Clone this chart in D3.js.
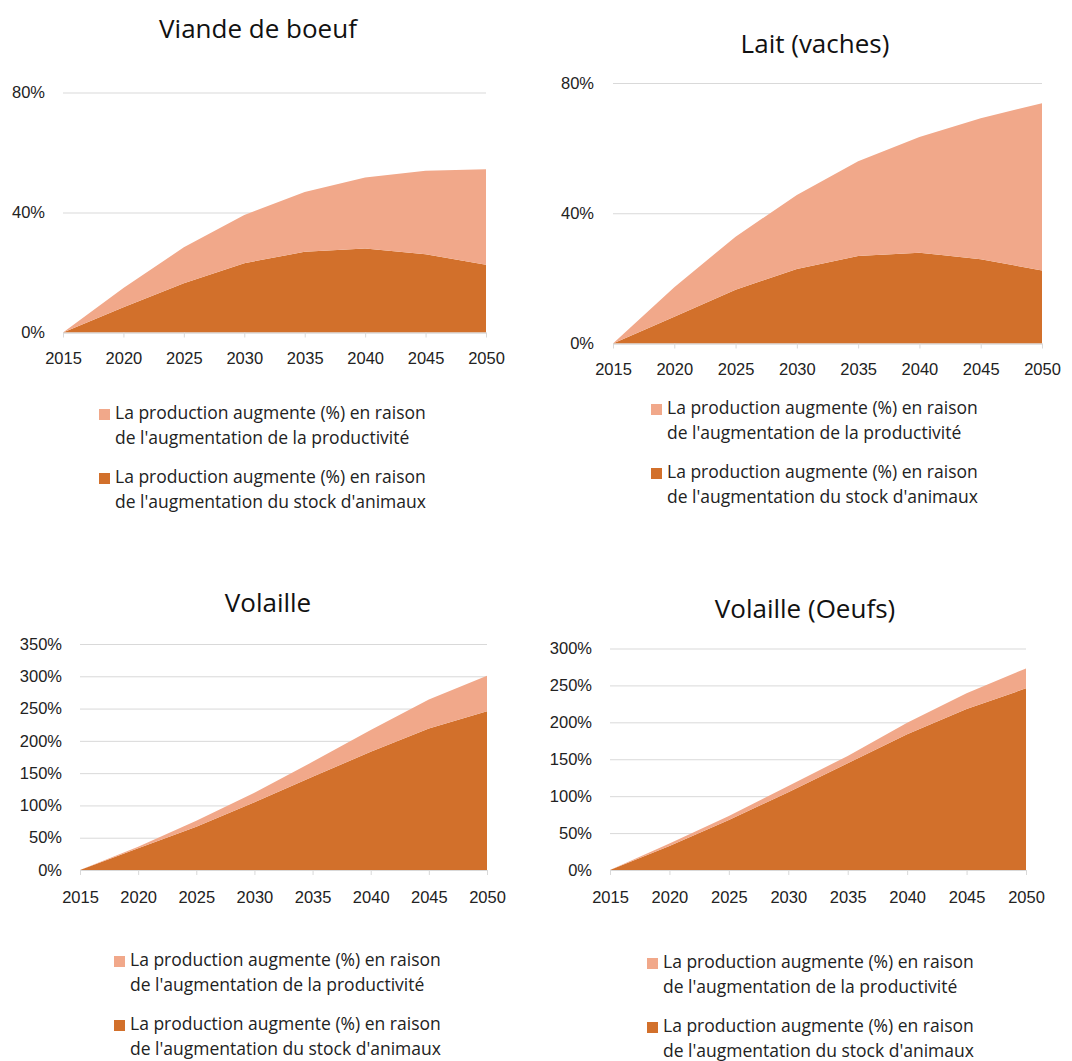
<!DOCTYPE html>
<html><head>
<meta charset="utf-8">
<script src="https://d3js.org/d3.v7.min.js"></script>
<style>
  body { margin: 0; background: #fff; }
  svg { font-family: "Open Sans", "Noto Sans", sans-serif; }
  .grid line { stroke: #d9d9d9; }
  .grid .domain { stroke: none; }
  .xaxis .domain, .xaxis line { stroke: #d9d9d9; }
  .tick text { fill: #222; }
</style>
</head>
<body>
<svg id="chart" width="1072" height="1061"></svg>
<script>
// data
let years = [2015, 2020, 2025, 2030, 2035, 2040, 2045, 2050];

let beefStock = [0, 8.4, 16.4, 23.1, 26.9, 28.0, 26.1, 22.6];
let beefProd  = [0, 6.4, 12.0, 16.1, 19.9, 23.7, 27.8, 31.8];

let milkStock = [0, 8.2, 16.5, 22.9, 26.9, 27.9, 25.9, 22.4];
let milkProd  = [0, 9.1, 16.3, 22.7, 29.1, 35.5, 43.3, 51.4];

let poultryStock = [0, 33.5, 67, 104.8, 144.5, 183, 219, 246];
let poultryProd  = [0, 2.5, 9.4, 15, 23, 34, 45, 55];

let eggStock = [0, 32.5, 67.8, 105.2, 144.5, 183.8, 218, 246];
let eggProd  = [0, 3.5, 5.2, 8.6, 10, 15.8, 21.4, 27];

let legendLabels = [
  ["La production augmente (%) en raison", "de l'augmentation de la productivité"],
  ["La production augmente (%) en raison", "de l'augmentation du stock d'animaux"]
];
let colors = { prod: "#f1a88a", stock: "#d2702b" };

let svg = d3.select("svg#chart");

// one panel = one stacked area chart
function drawPanel(p) {
  let g = svg.append("g");

  let x = d3.scaleLinear().domain([2015, 2050]).range([p.x0, p.x1]);
  let y = d3.scaleLinear().domain([0, p.yMax]).range([p.yBottom, p.yTop]);

  g.append("text")
    .attr("x", p.titleX).attr("y", p.titleY)
    .attr("text-anchor", "middle")
    .style("font-size", "26px").style("fill", "#111")
    .text(p.title);

  // gridlines
  g.append("g").attr("class", "grid")
    .attr("transform", "translate(" + p.x0 + ",0)")
    .call(d3.axisLeft(y).tickValues(p.ticks).tickSize(-(p.x1 - p.x0)).tickFormat(""));

  let rows = years.map((yr, i) => ({ year: yr, stock: p.stock[i], prod: p.prod[i] }));
  let series = d3.stack().keys(["stock", "prod"])(rows);

  let area = d3.area()
    .x(d => x(d.data.year))
    .y0(d => y(d[0]))
    .y1(d => y(d[1]));

  g.selectAll("path.area").data(series).enter().append("path")
    .attr("class", "area")
    .attr("fill", d => colors[d.key])
    .attr("d", area);

  // y axis labels
  let yAx = g.append("g")
    .attr("transform", "translate(" + p.x0 + ",0)")
    .call(d3.axisLeft(y).tickValues(p.ticks).tickSize(0).tickPadding(p.x0 - p.yLabelX).tickFormat(d => d + "%"));
  yAx.select(".domain").remove();
  yAx.selectAll("text").style("font-size", "16.5px");

  // x axis
  let xAx = g.append("g").attr("class", "xaxis")
    .attr("transform", "translate(0," + p.yBottom + ")")
    .call(d3.axisBottom(x).tickValues(years).tickSize(5).tickSizeOuter(0).tickPadding(p.xPad).tickFormat(d3.format("d")));
  xAx.selectAll("text").style("font-size", "16.5px");

  // legend
  let keys = ["prod", "stock"];
  keys.forEach((k, i) => {
    let ly = p.legendY + i * 64;
    g.append("rect")
      .attr("x", p.legendX - 16).attr("y", ly - 10)
      .attr("width", 11).attr("height", 11)
      .attr("fill", colors[k]);
    let t = g.append("text")
      .attr("x", p.legendX).attr("y", ly)
      .style("font-size", "17.5px").style("fill", "#222");
    legendLabels[i].forEach((line, j) => {
      t.append("tspan").attr("x", p.legendX).attr("dy", j == 0 ? 0 : 24.5).text(line);
    });
  });
}

drawPanel({ title: "Viande de boeuf", titleX: 258, titleY: 38,
  x0: 63, x1: 486, yTop: 92.5, yBottom: 332.5, yMax: 80, ticks: [0, 40, 80], yLabelX: 45, xPad: 15,
  stock: beefStock, prod: beefProd, legendX: 115, legendY: 419 });

drawPanel({ title: "Lait (vaches)", titleX: 815, titleY: 53,
  x0: 613, x1: 1042, yTop: 83, yBottom: 343.5, yMax: 80, ticks: [0, 40, 80], yLabelX: 594, xPad: 14.5,
  stock: milkStock, prod: milkProd, legendX: 667, legendY: 414 });

drawPanel({ title: "Volaille", titleX: 268, titleY: 612,
  x0: 80, x1: 487, yTop: 644, yBottom: 870, yMax: 350, ticks: [0, 50, 100, 150, 200, 250, 300, 350], yLabelX: 62, xPad: 16,
  stock: poultryStock, prod: poultryProd, legendX: 130, legendY: 966 });

drawPanel({ title: "Volaille (Oeufs)", titleX: 805, titleY: 618,
  x0: 610, x1: 1026, yTop: 648.5, yBottom: 870, yMax: 300, ticks: [0, 50, 100, 150, 200, 250, 300], yLabelX: 592, xPad: 16,
  stock: eggStock, prod: eggProd, legendX: 663, legendY: 968 });
</script>
</body></html>
